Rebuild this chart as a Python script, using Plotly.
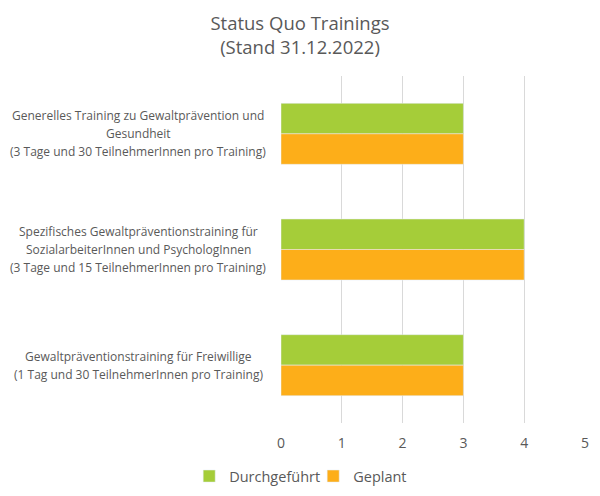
import plotly.graph_objects as go

categories = [
    "Generelles Training zu Gewaltprävention und<br>Gesundheit<br>(3 Tage und 30 TeilnehmerInnen pro Training)",
    "Spezifisches Gewaltpräventionstraining für<br>SozialarbeiterInnen und PsychologInnen<br>(3 Tage und 15 TeilnehmerInnen pro Training)",
    "Gewaltpräventionstraining für Freiwillige<br>(1 Tag und 30 TeilnehmerInnen pro Training)",
]
durchgefuehrt = [3, 4, 3]
geplant = [3, 4, 3]
x_ticks = [0, 1, 2, 3, 4, 5]

FONT = "Open Sans"
GRAY = "#595959"
LINE_H = 18

fig = go.Figure()
fig.add_trace(go.Bar(y=categories, x=durchgefuehrt, orientation="h", name="Durchgeführt",
                     marker=dict(color="#A5CD39")))
fig.add_trace(go.Bar(y=categories, x=geplant, orientation="h", name="Geplant",
                     marker=dict(color="#FDAE19")))

for c in categories:
    lines = c.split("<br>")
    n = len(lines)
    for i, line in enumerate(lines):
        fig.add_annotation(x=0, xref="paper", y=c, yref="y", text=line, showarrow=False,
                           xanchor="center", align="center", xshift=-14 - 129,
                           yshift=((n - 1) / 2 - i) * LINE_H,
                           font=dict(family=FONT, size=12, color=GRAY))

fig.update_layout(
    width=600, height=496,
    margin=dict(l=273, r=23, t=68, b=81),
    paper_bgcolor="white", plot_bgcolor="white",
    barmode="group", bargap=0.473, bargroupgap=0,
    title=dict(text="Status Quo Trainings<br>(Stand 31.12.2022)", x=292 / 600, xanchor="center",
               y=1 - 22.3 / 496, yanchor="top", font=dict(family=FONT, size=18.5, color=GRAY)),
    font=dict(family=FONT, color=GRAY),
    xaxis=dict(range=[0, 5], tickvals=x_ticks, showgrid=True, gridcolor="#D9D9D9",
               gridwidth=1, zeroline=False, showline=False, ticks="",
               ticklabelstandoff=10,
               tickfont=dict(family=FONT, size=14, color=GRAY)),
    yaxis=dict(autorange="reversed", showticklabels=False, showgrid=False,
               zeroline=False, showline=False, ticks=""),
    legend=dict(orientation="h", x=-0.302, xanchor="left", y=-0.107, yanchor="top",
                font=dict(family=FONT, size=14.5, color=GRAY), itemwidth=30,
                entrywidth=79, entrywidthmode="pixels",
                traceorder="normal"),
    showlegend=True,
)

fig.write_html("out.html")
